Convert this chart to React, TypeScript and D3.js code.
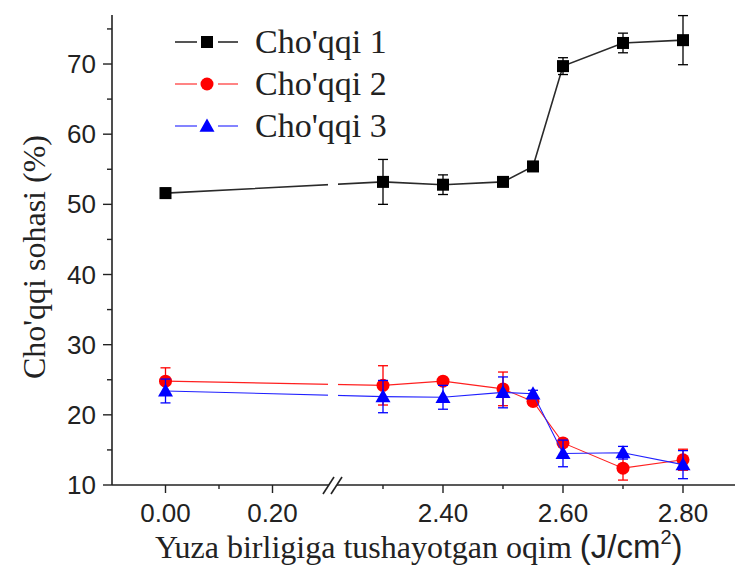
import React from "react";
import * as d3 from "d3";

const xValues = [0.0, 2.3, 2.4, 2.5, 2.55, 2.6, 2.7, 2.8];
const peak1 = [51.6, 53.2, 52.8, 53.2, 55.4, 69.7, 73.0, 73.4];
const peak1Err = [0.7, 3.2, 1.4, 0.4, 0.7, 1.2, 1.4, 3.5];
const peak2 = [24.8, 24.2, 24.8, 23.7, 21.9, 16.0, 12.4, 13.6];
const peak2Err = [1.9, 2.8, 0.5, 2.4, 0.5, 0.5, 1.7, 1.5];
const peak3 = [23.4, 22.6, 22.5, 23.2, 23.0, 14.5, 14.6, 12.9];
const peak3Err = [1.7, 2.3, 1.7, 2.2, 0.5, 1.9, 0.9, 2.0];
const seriesNames = ["Cho'qqi 1", "Cho'qqi 2", "Cho'qqi 3"];
const yMajorTicks = [10, 20, 30, 40, 50, 60, 70];
const yMinorTicks = [15, 25, 35, 45, 55, 65, 75];
const xMajorLeft = [0.0, 0.2];
const xMinorLeft = [0.1];
const xMajorRight = [2.4, 2.6, 2.8];
const xMinorRight = [2.3, 2.5, 2.7];

const SERIF = "'Liberation Serif', 'Times New Roman', serif";
const SANS = "'Liberation Sans', Arial, sans-serif";

export default function App() {
  const W = 735, H = 574;
  const yScale = d3.scaleLinear().domain([10, 77]).range([485, 14.9]);
  const xLeft = d3.scaleLinear().domain([-0.1, 0.3]).range([112, 326]);
  const xRight = d3.scaleLinear().domain([2.3, 2.8]).range([383, 683]);
  const x = (v: number) => (v < 1 ? xLeft(v) : xRight(v));
  const axisY = yScale(10);
  const axisX = 112;
  const breakA = 329, breakB = 337;

  const line = d3.line<number>().x((_, i) => x(xValues[i])).y((d) => yScale(d));

  const series = [
    { vals: peak1, err: peak1Err, color: "#000000", lineColor: "#2a2a2a", lw: 1.6, shape: "square" },
    { vals: peak2, err: peak2Err, color: "#ff0000", lineColor: "#ff2020", lw: 1.1, shape: "circle" },
    { vals: peak3, err: peak3Err, color: "#0000ff", lineColor: "#2020ff", lw: 1.1, shape: "triangle" },
  ];

  const marker = (shape: string, cx: number, cy: number, color: string, key?: any) => {
    if (shape === "square") return <rect key={key} x={cx - 6} y={cy - 6} width={12} height={12} fill={color} />;
    if (shape === "circle") return <circle key={key} cx={cx} cy={cy} r={6.5} fill={color} />;
    const s = 7.5;
    return (
      <path key={key} d={`M${cx},${cy - s}L${cx + s},${cy + s * 0.75}L${cx - s},${cy + s * 0.75}Z`} fill={color} />
    );
  };

  return (
    <svg width={W} height={H} style={{ position: "absolute", left: 0, top: 0, background: "#fff" }}>
      <defs>
        <clipPath id="brk">
          <rect x={0} y={0} width={breakA - 1} height={H} />
          <rect x={breakB + 1} y={0} width={W} height={H} />
        </clipPath>
      </defs>

      {/* Series */}
      {series.map((s, si) => (
        <g key={si}>
          <path d={line(s.vals) || ""} fill="none" stroke={s.lineColor} strokeWidth={s.lw} clipPath="url(#brk)" />
          {s.vals.map((v, i) => {
            const cx = x(xValues[i]);
            const y1 = yScale(v + s.err[i]);
            const y2 = yScale(v - s.err[i]);
            return (
              <g key={i} stroke={s.color} strokeWidth={1.3}>
                <line x1={cx} x2={cx} y1={y1} y2={y2} />
                <line x1={cx - 5} x2={cx + 5} y1={y1} y2={y1} />
                <line x1={cx - 5} x2={cx + 5} y1={y2} y2={y2} />
              </g>
            );
          })}
          {s.vals.map((v, i) => marker(s.shape, x(xValues[i]), yScale(v), s.color, i))}
        </g>
      ))}

      {/* Y axis */}
      <line x1={axisX} x2={axisX} y1={yScale(77)} y2={axisY} stroke="#222" strokeWidth={1.6} />
      {yMajorTicks.map((t) => (
        <g key={t}>
          <line x1={axisX - 9} x2={axisX} y1={yScale(t)} y2={yScale(t)} stroke="#222" strokeWidth={1.4} />
          <text x={96} y={yScale(t) + 9} textAnchor="end" fontFamily={SANS} fontSize={26} fill="#222">
            {t}
          </text>
        </g>
      ))}
      {yMinorTicks.map((t) => (
        <line key={t} x1={axisX - 5} x2={axisX} y1={yScale(t)} y2={yScale(t)} stroke="#222" strokeWidth={1.4} />
      ))}

      {/* X axis */}
      <line x1={axisX} x2={breakA} y1={axisY} y2={axisY} stroke="#222" strokeWidth={1.6} />
      <line x1={breakB} x2={W} y1={axisY} y2={axisY} stroke="#222" strokeWidth={1.6} />
      <line x1={breakA - 6} x2={breakA + 5} y1={axisY + 9} y2={axisY - 8} stroke="#222" strokeWidth={1.6} />
      <line x1={breakB - 6} x2={breakB + 5} y1={axisY + 9} y2={axisY - 8} stroke="#222" strokeWidth={1.6} />
      {[...xMajorLeft.map((t) => ({ t, px: xLeft(t) })), ...xMajorRight.map((t) => ({ t, px: xRight(t) }))].map(({ t, px }) => (
        <g key={t}>
          <line x1={px} x2={px} y1={axisY} y2={axisY + 8} stroke="#222" strokeWidth={1.4} />
          <text x={px} y={522} textAnchor="middle" fontFamily={SANS} fontSize={26} fill="#222">
            {t.toFixed(2)}
          </text>
        </g>
      ))}
      {[...xMinorLeft.map((t) => xLeft(t)), ...xMinorRight.map((t) => xRight(t))].map((px, i) => (
        <line key={i} x1={px} x2={px} y1={axisY} y2={axisY + 4} stroke="#222" strokeWidth={1.4} />
      ))}

      {/* Axis titles */}
      <text x={155} y={558} fontFamily={SERIF} fontSize={32} fill="#222">
        Yuza birligiga tushayotgan oqim{" "}
        <tspan fontFamily={SANS} fontSize={33}>(J/cm</tspan>
        <tspan fontFamily={SANS} fontSize={20} dy={-14}>2</tspan>
        <tspan fontFamily={SANS} fontSize={33} dy={14}>)</tspan>
      </text>
      <text
        transform={`translate(45, 257) rotate(-90)`}
        textAnchor="middle"
        fontFamily={SERIF}
        fontSize={32}
        fill="#222"
      >
        Cho'qqi sohasi (%)
      </text>

      {/* Legend */}
      {series.map((s, i) => {
        const cy = 42 + i * 42;
        return (
          <g key={i}>
            <line x1={175} x2={197} y1={cy} y2={cy} stroke={s.lineColor} strokeWidth={s.lw} />
            <line x1={218} x2={238} y1={cy} y2={cy} stroke={s.lineColor} strokeWidth={s.lw} />
            {marker(s.shape, 207, cy, s.color)}
            <text x={255} y={cy + 11} fontFamily={SERIF} fontSize={34} fill="#222">
              {seriesNames[i]}
            </text>
          </g>
        );
      })}
    </svg>
  );
}
